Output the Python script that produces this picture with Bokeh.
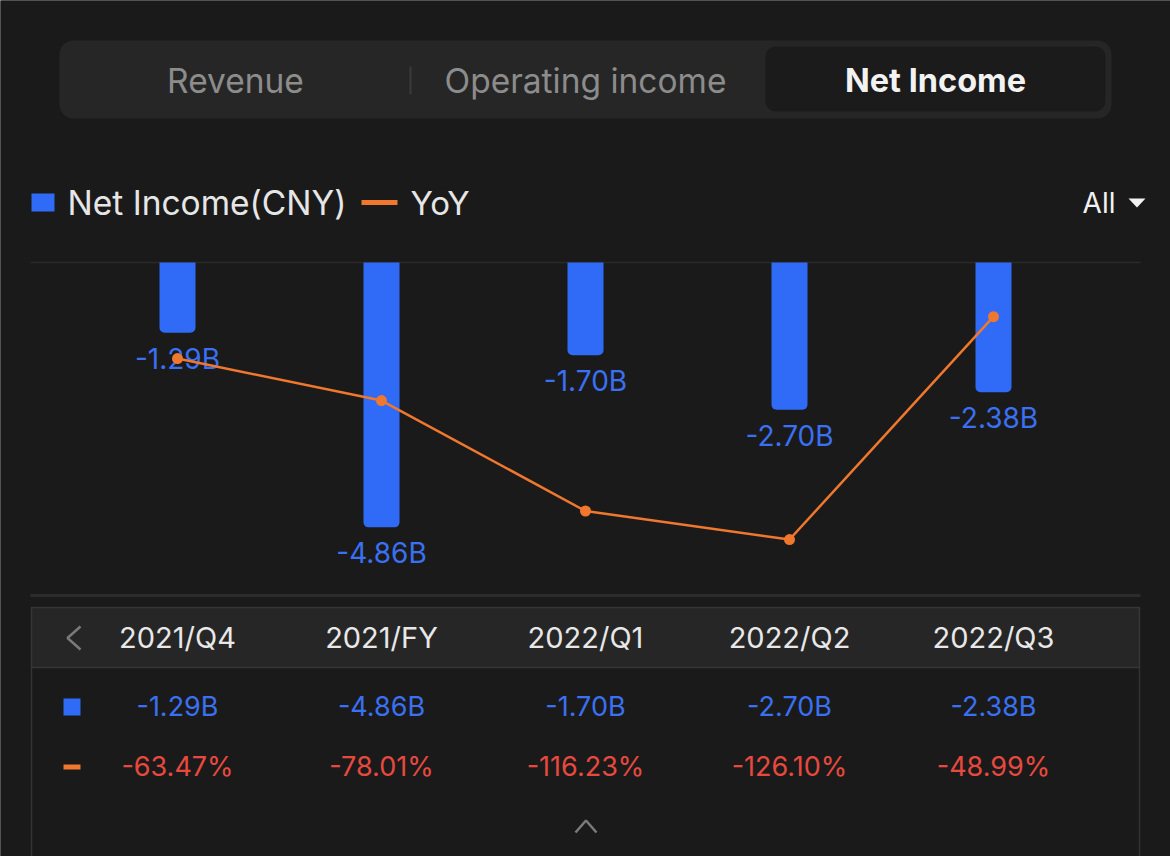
from bokeh.plotting import figure
from bokeh.models import Range1d
from bokeh.embed import file_html
from bokeh.resources import INLINE
from bokeh.core.properties import value

# ---------------- data ----------------
periods = ["2021/Q4", "2021/FY", "2022/Q1", "2022/Q2", "2022/Q3"]
net_income = [-1.29, -4.86, -1.70, -2.70, -2.38]          # billions CNY
yoy = [-63.47, -78.01, -116.23, -126.10, -48.99]           # percent
tabs = ["Revenue", "Operating income", "Net Income"]
legend_labels = ["Net Income(CNY)", "YoY"]

ni_labels = [f"{v:.2f}B" for v in net_income]
yoy_labels = [f"{v:.2f}%" for v in yoy]
idx = list(range(len(periods)))

# ---------------- style ----------------
W, H = 1170, 856
BG = "#1a1a1a"
BLUE = "#2f6bf6"
BLUE_TXT = "#3a70f2"
ORANGE = "#f0772e"
RED = "#e8493f"
FONT = value("Inter")

p = figure(width=W, height=H, x_range=Range1d(0, W), y_range=Range1d(H, 0),
           output_backend="svg", toolbar_location=None, min_border=0,
           background_fill_color=BG, border_fill_color=BG, outline_line_color=None,
           x_axis_location=None, y_axis_location=None)
p.grid.visible = False

# layout of the plotting area (pixels)
x_first, x_step = 177, 204
zero_px, px_per_b = 262, 54.5
yoy_zero_px, px_per_pct = 174.6, 2.89

p.extra_x_ranges = {"cat": Range1d(-x_first / x_step, (W - x_first) / x_step)}
p.extra_y_ranges = {
    "bar": Range1d((zero_px - H) / px_per_b, zero_px / px_per_b),
    "yoy": Range1d((yoy_zero_px - H) / px_per_pct, yoy_zero_px / px_per_pct),
}

# full background
p.quad(left=-20, right=W + 20, top=-20, bottom=H + 20, fill_color=BG, line_color=None)

# ---------------- tab bar ----------------
p.quad(left=59, right=1111, top=40, bottom=118, fill_color="#262626",
       line_color=None, border_radius=14)
p.quad(left=765, right=1105, top=46, bottom=111, fill_color="#1b1b1b",
       line_color=None, border_radius=10)
p.segment(x0=410, y0=66, x1=410, y1=94, line_color="#3a3a3a", line_width=2)
tab_x = [235, 585, 935]
tab_colors = ["#8c8c8c", "#8c8c8c", "#f2f2f2"]
tab_styles = ["normal", "normal", "bold"]
tab_sizes = ["33.5px", "33.5px", "32.5px"]
for t, tx, c, s, fs in zip(tabs, tab_x, tab_colors, tab_styles, tab_sizes):
    p.text(x=[tx], y=[80], text=[t], text_color=c, text_font=FONT,
           text_font_size=fs, text_font_style=s,
           text_align="center", text_baseline="middle")

# ---------------- legend ----------------
p.quad(left=31, right=54, top=193, bottom=211, fill_color=BLUE, line_color=None)
p.text(x=[67], y=[202], text=[legend_labels[0]], text_color="#e6e6e6", text_font=FONT,
       text_font_size="33.5px", text_align="left", text_baseline="middle")
p.segment(x0=361, y0=202, x1=397, y1=202, line_color=ORANGE, line_width=5)
p.text(x=[410], y=[202], text=[legend_labels[1]], text_color="#e6e6e6", text_font=FONT,
       text_font_size="33px", text_align="left", text_baseline="middle")
p.text(x=[1115], y=[202], text=["All"], text_color="#f2f2f2", text_font=FONT,
       text_font_size="28px", text_align="right", text_baseline="middle")
p.patch(x=[1128, 1145, 1136.5], y=[198, 198, 207], fill_color="#f2f2f2", line_color=None)

# ---------------- chart frame lines ----------------
p.segment(x0=30, y0=262, x1=1140, y1=262, line_color="#2a2a2a", line_width=1.5)
p.segment(x0=30, y0=595, x1=1140, y1=595, line_color="#2c2c2c", line_width=3)

# ---------------- bars ----------------
p.vbar(x=idx, top=0, bottom=net_income, width=36 / x_step, fill_color=BLUE,
       line_color=None, border_radius=(0, 0, 5, 5),
       x_range_name="cat", y_range_name="bar")
p.text(x=idx, y=net_income, text=ni_labels, y_offset=26, text_color=BLUE_TXT,
       text_font=FONT, text_font_size="28px", text_align="center",
       text_baseline="middle", x_range_name="cat", y_range_name="bar")

# ---------------- YoY line ----------------
p.line(x=idx, y=yoy, line_color=ORANGE, line_width=2.5,
       x_range_name="cat", y_range_name="yoy")
p.scatter(x=idx, y=yoy, size=11, fill_color=ORANGE, line_color=None,
          x_range_name="cat", y_range_name="yoy")

# ---------------- table ----------------
p.quad(left=31, right=1139, top=607, bottom=667, fill_color="#262626",
       line_color="#363636", line_width=1.5)
p.segment(x0=[31, 1139], y0=[667, 667], x1=[31, 1139], y1=[H, H],
          line_color="#333333", line_width=1.5)
# left chevron
p.line(x=[80, 67, 80], y=[626, 637.5, 649], line_color="#7a7a7a", line_width=2.5)
p.text(x=idx, y=[637] * len(idx), text=periods, text_color="#e8e8e8", text_font=FONT,
       text_font_size="29px", text_align="center", text_baseline="middle",
       x_range_name="cat")
p.quad(left=63, right=80, top=698, bottom=715, fill_color=BLUE, line_color=None)
p.text(x=idx, y=[706] * len(idx), text=ni_labels, text_color=BLUE_TXT, text_font=FONT,
       text_font_size="27px", text_align="center", text_baseline="middle",
       x_range_name="cat")
p.quad(left=63, right=80, top=764, bottom=769, fill_color=ORANGE, line_color=None)
p.text(x=idx, y=[766] * len(idx), text=yoy_labels, text_color=RED, text_font=FONT,
       text_font_size="27px", text_align="center", text_baseline="middle",
       x_range_name="cat")
# bottom caret
p.line(x=[575, 585.5, 596], y=[832, 820, 832], line_color="#7a7a7a", line_width=2.5)

html = file_html(p, INLINE)
html = html.replace("<body>", '<body style="margin:0;background:%s;">' % BG, 1)
open("out.html", "w").write(html)
